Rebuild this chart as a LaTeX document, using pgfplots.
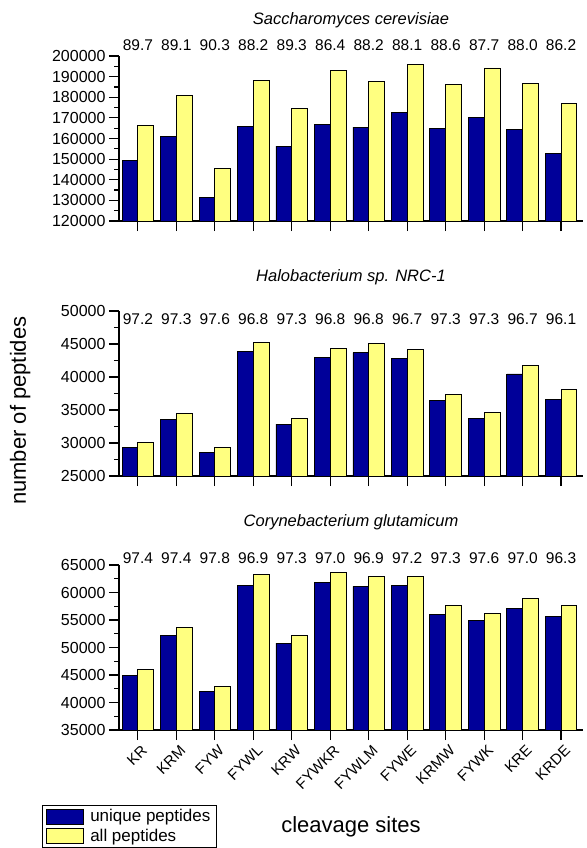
\documentclass[border=0pt]{standalone}
\usepackage{fontspec}
\setmainfont{Liberation Sans}
\usepackage{pgfplots}
\usepackage{pgfplotstable}
\pgfplotsset{compat=1.18}

\definecolor{uniqblue}{RGB}{0,0,153}
\definecolor{allyellow}{RGB}{255,255,128}

% x = cleavage site index, uniq = unique peptides, all = all peptides
\pgfplotstableread{
x uniq all
0 149300 166300
1 161100 180900
2 131300 145600
3 166000 188200
4 156300 174700
5 167000 193200
6 165500 187700
7 172500 196000
8 165000 186100
9 170400 194200
10 164500 186900
11 152900 177200
}\yeast

\pgfplotstableread{
x uniq all
0 29260 30070
1 33620 34480
2 28600 29310
3 43810 45230
4 32860 33720
5 42900 44270
6 43710 45080
7 42850 44220
8 36460 37370
9 33770 34640
10 40470 41790
11 36660 38180
}\halo

\pgfplotstableread{
x uniq all
0 44840 46050
1 52250 53580
2 41980 42960
3 61300 63300
4 50790 52130
5 61780 63600
6 61110 63000
7 61300 63000
8 56070 57650
9 54980 56200
10 57110 58870
11 55650 57710
}\coryne

\pgfplotsset{
  geom/.style={
    scale only axis, width=464pt, height=165pt,
    anchor=south west,
    xmin=-0.49, xmax=11.57,
  },
  panel/.style={
    geom,
    xtick={0,...,11},
    axis x line*=bottom, axis y line*=left,
    axis line style={-, line width=1.2pt},
    tick style={line width=1.2pt, black},
    tick align=outside,
    major tick length=10pt, minor tick length=5pt,
    minor y tick num=1,
    scaled y ticks=false,
    /pgf/number format/assume math mode=true,
    yticklabel style={/pgf/number format/fixed, /pgf/number format/1000 sep={},
      font=\fontsize{16}{19}\selectfont},
    every axis title/.style={at={(0.5,1)}, anchor=center,
      font=\fontsize{16.5}{19}\selectfont\itshape},
  },
  % overlay axis for the percentages above the bars
  over/.style={geom, hide axis, clip=false},
  ubar/.style={ybar, bar width=15.8pt, bar shift=-7.9pt, fill=uniqblue, draw=black, line width=0.8pt,
    legend image code/.code={\draw[fill=uniqblue, draw=black, line width=0.8pt] (0pt,-7.5pt) rectangle (37pt,7.5pt);}},
  abar/.style={ybar, bar width=15.8pt, bar shift=7.9pt, fill=allyellow, draw=black, line width=0.8pt,
    legend image code/.code={\draw[fill=allyellow, draw=black, line width=0.8pt] (0pt,-7.5pt) rectangle (37pt,7.5pt);}},
  pct/.style={draw=none, mark=none, nodes near coords, point meta=explicit symbolic,
    nodes near coords style={font=\fontsize{15.5}{18}\selectfont, anchor=center, inner sep=0pt}},
}

\begin{document}
\begin{tikzpicture}

% Saccharomyces cerevisiae
\begin{axis}[panel, at={(119pt,-221pt)},
  ymin=120000, ymax=200000, ytick={120000,130000,...,200000},
  xticklabels={,,,,,,,,,,,},
  title={Saccharomyces cerevisiae}, title style={yshift=35.7pt}]
\addplot[ubar] table[x=x, y=uniq] {\yeast};
\addplot[abar] table[x=x, y=all] {\yeast};
\end{axis}
\begin{axis}[over, at={(119pt,-221pt)}, ymin=120000, ymax=200000]
\addplot[pct] coordinates {(0,205200)[89.7] (1,205200)[89.1] (2,205200)[90.3] (3,205200)[88.2]
  (4,205200)[89.3] (5,205200)[86.4] (6,205200)[88.2] (7,205200)[88.1] (8,205200)[88.6]
  (9,205200)[87.7] (10,205200)[88.0] (11,205200)[86.2]};
\end{axis}

% Halobacterium sp. NRC-1
\begin{axis}[panel, at={(119pt,-476pt)},
  ymin=25000, ymax=50000, ytick={25000,30000,...,50000},
  xticklabels={,,,,,,,,,,,},
  title={Halobacterium sp. NRC-1}, title style={yshift=33.7pt},
  ylabel={number of peptides},
  ylabel style={at={(axis description cs:-0.213,0.396)}, anchor=center,
    font=\fontsize{22}{26}\selectfont}]
\addplot[ubar] table[x=x, y=uniq] {\halo};
\addplot[abar] table[x=x, y=all] {\halo};
\end{axis}
\begin{axis}[over, at={(119pt,-476pt)}, ymin=25000, ymax=50000]
\addplot[pct] coordinates {(0,48740)[97.2] (1,48740)[97.3] (2,48740)[97.6] (3,48740)[96.8]
  (4,48740)[97.3] (5,48740)[96.8] (6,48740)[96.8] (7,48740)[96.7] (8,48740)[97.3]
  (9,48740)[97.3] (10,48740)[96.7] (11,48740)[96.1]};
\end{axis}

% Corynebacterium glutamicum
\begin{axis}[panel, at={(119pt,-730pt)},
  ymin=35000, ymax=65000, ytick={35000,40000,...,65000},
  xticklabels={KR,KRM,FYW,FYWL,KRW,FYWKR,FYWLM,FYWE,KRMW,FYWK,KRE,KRDE},
  xticklabel style={rotate=45, anchor=north east, font=\fontsize{15}{18}\selectfont,
    inner sep=1pt, yshift=-4pt},
  title={Corynebacterium glutamicum}, title style={yshift=43pt},
  xlabel={cleavage sites},
  xlabel style={at={(axis description cs:0.5,-0.584)}, anchor=center,
    font=\fontsize{22}{26}\selectfont},
  legend style={at={(axis description cs:-0.166,-0.4545)}, anchor=north west,
    draw=black, line width=1pt, font=\fontsize{17}{19}\selectfont,
    inner xsep=4pt, inner ysep=2pt, row sep=2pt, cells={anchor=west},
    /tikz/every odd column/.append style={column sep=4pt}},
  legend cell align=left]
\addplot[ubar] table[x=x, y=uniq] {\coryne};
\addlegendentry{unique peptides}
\addplot[abar] table[x=x, y=all] {\coryne};
\addlegendentry{all peptides}
\end{axis}
\begin{axis}[over, at={(119pt,-730pt)}, ymin=35000, ymax=65000]
\addplot[pct] coordinates {(0,66230)[97.4] (1,66230)[97.4] (2,66230)[97.8] (3,66230)[96.9]
  (4,66230)[97.3] (5,66230)[97.0] (6,66230)[96.9] (7,66230)[97.2] (8,66230)[97.3]
  (9,66230)[97.6] (10,66230)[97.0] (11,66230)[96.3]};
\end{axis}

\pgfresetboundingbox
\path (0,0) rectangle (586pt,-848pt);
\end{tikzpicture}
\end{document}
